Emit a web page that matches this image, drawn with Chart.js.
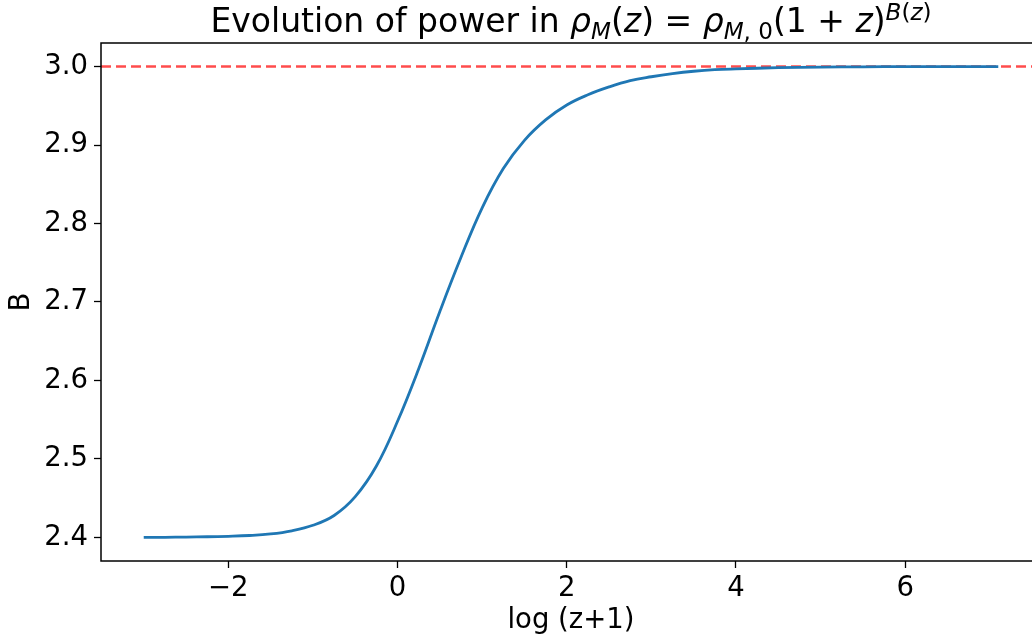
<!DOCTYPE html>
<html>
<head>
<meta charset="utf-8">
<script src="https://cdn.jsdelivr.net/npm/chart.js@4.4.0/dist/chart.umd.min.js"></script>
<style>
  html, body { margin: 0; padding: 0; background: #fff; }
  #wrap { width: 1032px; height: 643px; overflow: hidden; position: relative; }
  canvas { display: block; }
</style>
</head>
<body>
<div id="wrap"><canvas id="chart" width="1042" height="643" style="width:1042px;height:643px"></canvas></div>
<script>
/* ── DATA ────────────────────────────────────────────────── */
const logZ1 = [-3, -2.75, -2.5, -2.25, -2, -1.75, -1.5, -1.25, -1, -0.75, -0.5, -0.25,
               0, 0.25, 0.5, 0.75, 1, 1.25, 1.5, 1.75, 2, 2.25, 2.5, 2.75,
               3, 3.25, 3.5, 3.75, 4, 4.5, 5, 5.5, 6, 6.5, 7.1];
const powerB = [2.4000, 2.4002, 2.4005, 2.4009, 2.4015, 2.4025, 2.4045, 2.4085, 2.4155, 2.428, 2.452, 2.491,
                2.548, 2.615, 2.688, 2.757, 2.820, 2.870, 2.906, 2.932, 2.951, 2.964, 2.974, 2.982,
                2.987, 2.991, 2.994, 2.996, 2.997, 2.9985, 2.9993, 2.9997, 2.9999, 3.0, 3.0];
const asymptote = 3.0;
const xTicks = [-2, 0, 2, 4, 6];
const yTicks = [2.4, 2.5, 2.6, 2.7, 2.8, 2.9, 3.0];
const xRange = [-3.505, 7.605];
const yRange = [2.37, 3.03];

const FONT = "'DejaVu Sans', sans-serif";
const TICK_SIZE = 27.5;

/* ── TITLE (mathtext-ish) ────────────────────────────────── */
// [text, italic, 0 = normal / 1 = subscript / 2 = superscript]
const titleParts = [
    ['Evolution of power in ', 0, 0],
    ['ρ', 1, 0], ['M', 1, 1], ['(', 0, 0], ['z', 1, 0], [')', 0, 0],
    [' = ', 0, 0],
    ['ρ', 1, 0], ['M', 1, 1], [', 0', 0, 1], ['(1 + ', 0, 0], ['z', 1, 0], [')', 0, 0],
    ['B', 1, 2], ['(', 0, 2], ['z', 1, 2], [')', 0, 2]
];

const mathTitle = {
    id: 'mathTitle',
    afterDraw(chart) {
        const ctx = chart.ctx;
        const area = chart.chartArea;
        const F = 33;
        const fontOf = p => `${p[1] ? 'italic ' : ''}${p[2] ? F * 0.7 : F}px ${FONT}`;
        let total = 0;
        titleParts.forEach(p => { ctx.font = fontOf(p); total += ctx.measureText(p[0]).width; });
        let x = (area.left + area.right) / 2 - total / 2;
        const base = 32;
        ctx.save();
        ctx.fillStyle = '#000';
        ctx.textBaseline = 'alphabetic';
        ctx.textAlign = 'left';
        titleParts.forEach(p => {
            ctx.font = fontOf(p);
            const dy = p[2] === 1 ? F * 0.2 : (p[2] === 2 ? -F * 0.36 : 0);
            ctx.fillText(p[0], x, base + dy);
            x += ctx.measureText(p[0]).width;
        });
        ctx.restore();
    }
};

/* ── AXES FRAME ──────────────────────────────────────────── */
const frame = {
    id: 'frame',
    afterDatasetsDraw(chart) {
        const { ctx, chartArea: a } = chart;
        ctx.save();
        ctx.strokeStyle = '#000';
        ctx.lineWidth = 1.5;
        ctx.strokeRect(a.left, a.top, a.right - a.left, a.bottom - a.top);
        ctx.restore();
    }
};

new Chart(document.getElementById('chart'), {
    type: 'line',
    data: {
        datasets: [
            {
                data: logZ1.map((x, i) => ({ x, y: powerB[i] })),
                borderColor: '#1f77b4',
                borderWidth: 2.8,
                pointRadius: 0,
                tension: 0.4,
                order: 1
            },
            {
                data: xRange.map(x => ({ x, y: asymptote })),
                borderColor: 'rgba(255,0,0,0.7)',
                borderWidth: 2.4,
                borderDash: [10, 5],
                pointRadius: 0,
                order: 2
            }
        ]
    },
    options: {
        responsive: false,
        animation: false,
        events: [],
        layout: { padding: { top: 43, left: 0, right: 1, bottom: 0 } },
        plugins: { legend: { display: false }, tooltip: { enabled: false } },
        scales: {
            x: {
                type: 'linear',
                min: xRange[0], max: xRange[1],
                afterBuildTicks: s => { s.ticks = xTicks.map(v => ({ value: v })); },
                afterFit: s => { s.height = 82; },
                ticks: {
                    color: '#000', padding: 4, maxRotation: 0,
                    font: { family: FONT, size: TICK_SIZE },
                    callback: v => String(v).replace('-', '\u2212')
                },
                grid: { drawOnChartArea: false, drawTicks: true, tickLength: 7, tickColor: '#000', tickWidth: 1.3 },
                border: { display: false },
                title: { display: true, text: 'log (z+1)', color: '#000', font: { family: FONT, size: TICK_SIZE }, padding: { top: 0, bottom: 6 } }
            },
            y: {
                type: 'linear',
                min: yRange[0], max: yRange[1],
                afterBuildTicks: s => { s.ticks = yTicks.map(v => ({ value: v })); },
                afterFit: s => { s.width = 101; },
                ticks: {
                    color: '#000', padding: 6,
                    font: { family: FONT, size: TICK_SIZE },
                    callback: v => v.toFixed(1)
                },
                grid: { drawOnChartArea: false, drawTicks: true, tickLength: 7, tickColor: '#000', tickWidth: 1.3 },
                border: { display: false },
                title: { display: true, text: 'B', color: '#000', font: { family: FONT, size: TICK_SIZE }, padding: { top: 5, bottom: 0 } }
            }
        }
    },
    plugins: [mathTitle, frame]
});
</script>
</body>
</html>
